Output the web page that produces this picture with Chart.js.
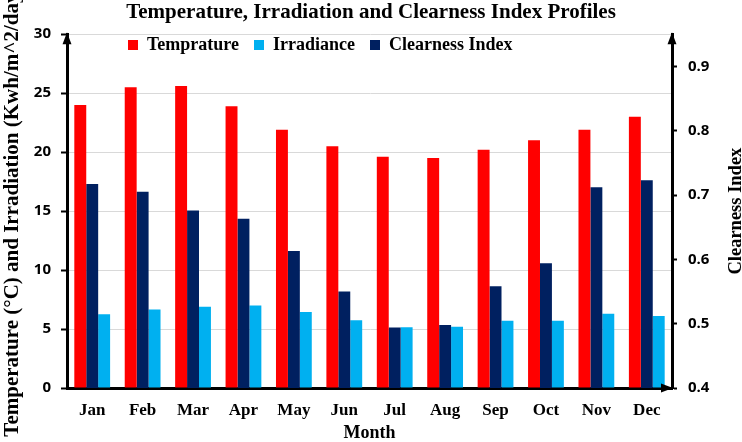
<!DOCTYPE html>
<html><head><meta charset="utf-8">
<script src="https://cdn.jsdelivr.net/npm/chart.js@4.4.1/dist/chart.umd.min.js"></script>
<style>html,body{margin:0;padding:0;background:#fff}canvas{display:block}</style>
</head><body>
<canvas id="c" width="742" height="442"></canvas>
<script>
const months = ['Jan','Feb','Mar','Apr','May','Jun','Jul','Aug','Sep','Oct','Nov','Dec'];
const temperature = [24.0, 25.5, 25.6, 23.9, 21.9, 20.5, 19.6, 19.5, 20.2, 21.0, 21.9, 23.0];
const irradiance = [6.25, 6.65, 6.9, 7.0, 6.45, 5.75, 5.15, 5.2, 5.7, 5.7, 6.3, 6.1];
const clearness = [0.717, 0.705, 0.676, 0.663, 0.613, 0.550, 0.494, 0.498, 0.558, 0.594, 0.712, 0.723];
const leftTicks = [0, 5, 10, 15, 20, 25, 30];
const clearnessTicks = [0.4, 0.5, 0.6, 0.7, 0.8, 0.9];
const seriesNames = ['Temprature', 'Irradiance', 'Clearness Index'];
const titleText = 'Temperature, Irradiation and Clearness Index Profiles';
const leftTitle = 'Temperature (\u00B0C) and Irradiation (Kwh/m^2/day)';
const rightTitle = 'Clearness Index';
const xTitle = 'Month';

const SERIF = '"Liberation Serif", "Times New Roman", serif';
const SANS = '"Open Sans", "DejaVu Sans", sans-serif';
const legendRank = {0: 0, 2: 1, 1: 2};

const decorations = {
  id: 'decorations',
  afterInit(chart) {
    const lg = chart.legend;
    if (lg) {
      const origFit = lg.fit;
      lg.fit = function () { origFit.call(this); this._realHeight = this.height; this.height = 0; };
    }
  },
  afterLayout(chart) {
    const lg = chart.legend;
    const h = lg._realHeight || 40;
    lg.left = 113; lg.right = 742; lg.width = 742 - 113;
    lg.top = 21; lg.height = h; lg.bottom = 21 + h;
  },
  afterDraw(chart) {
    const ctx = chart.ctx, ca = chart.chartArea;
    ctx.save();
    ctx.fillStyle = '#000';
    ctx.beginPath();
    ctx.moveTo(ca.left, ca.top - 2);
    ctx.lineTo(ca.left - 4.5, ca.top + 10);
    ctx.lineTo(ca.left + 4.5, ca.top + 10);
    ctx.closePath(); ctx.fill();
    ctx.beginPath();
    ctx.moveTo(ca.right, ca.top - 2);
    ctx.lineTo(ca.right - 4.5, ca.top + 10);
    ctx.lineTo(ca.right + 4.5, ca.top + 10);
    ctx.closePath(); ctx.fill();
    ctx.beginPath();
    ctx.moveTo(ca.right + 1, ca.bottom);
    ctx.lineTo(ca.right - 11, ca.bottom - 4.5);
    ctx.lineTo(ca.right - 11, ca.bottom + 4.5);
    ctx.closePath(); ctx.fill();
    ctx.translate(736, (ca.top + ca.bottom) / 2);
    ctx.rotate(-Math.PI / 2);
    ctx.textAlign = 'center';
    ctx.textBaseline = 'middle';
    ctx.font = 'bold 18.5px ' + SERIF;
    ctx.fillText(rightTitle, 0, 0);
    ctx.restore();
  }
};

new Chart(document.getElementById('c'), {
  type: 'bar',
  data: {
    labels: months,
    datasets: [
      {label: seriesNames[0], data: temperature, backgroundColor: '#FF0000', yAxisID: 'y'},
      {label: seriesNames[2], data: clearness, backgroundColor: '#002060', yAxisID: 'y1'},
      {label: seriesNames[1], data: irradiance, backgroundColor: '#00B0F0', yAxisID: 'y'}
    ]
  },
  options: {
    responsive: false,
    animation: false,
    devicePixelRatio: 1,
    layout: {padding: 0},
    datasets: {bar: {categoryPercentage: 0.71, barPercentage: 1.0, borderWidth: 0}},
    plugins: {
      tooltip: {enabled: false},
      title: {
        display: true, text: titleText, color: '#000',
        font: {family: SERIF, size: 21, weight: 'bold'},
        padding: {top: 0, bottom: 9}
      },
      legend: {
        position: 'top', align: 'start',
        labels: {
          boxWidth: 10, boxHeight: 10, padding: 15, color: '#000',
          font: {family: SERIF, size: 18, weight: 'bold'},
          sort: (a, b) => legendRank[a.datasetIndex] - legendRank[b.datasetIndex]
        }
      }
    },
    scales: {
      x: {
        grid: {display: false, drawTicks: false},
        border: {display: true, color: '#000', width: 3},
        ticks: {color: '#000', padding: 12, font: {family: SERIF, size: 17, weight: 'bold'}},
        title: {display: true, text: xTitle, color: '#000', padding: {top: 0, bottom: 0},
                font: {family: SERIF, size: 18, weight: 'bold', lineHeight: 1.0}},
        afterFit: s => { s.height = 54; }
      },
      y: {
        position: 'left', min: 0, max: 30,
        afterBuildTicks: s => { s.ticks = leftTicks.map(v => ({value: v})); },
        grid: {color: '#d9d9d9', lineWidth: 1, tickColor: '#000', tickLength: 6, tickWidth: 2},
        border: {display: true, color: '#000', width: 3},
        ticks: {color: '#000', padding: 10, font: {family: SANS, size: 15, weight: 'bold'}},
        title: {display: true, text: leftTitle, color: '#000', padding: {top: 0, bottom: 0},
                font: {family: SERIF, size: 21, weight: 'bold'}},
        afterFit: s => { s.width = 67; }
      },
      y1: {
        position: 'right', min: 0.4, max: 0.95,
        afterBuildTicks: s => { s.ticks = clearnessTicks.map(v => ({value: v})); },
        grid: {drawOnChartArea: false, tickColor: '#000', tickLength: 5, tickWidth: 2},
        border: {display: true, color: '#000', width: 3},
        ticks: {color: '#000', padding: 11, callback: v => Number(v).toFixed(1),
                font: {family: SANS, size: 15, weight: 'bold'}},
        afterFit: s => { s.width = 70; }
      }
    }
  },
  plugins: [decorations]
});
</script>
</body></html>
